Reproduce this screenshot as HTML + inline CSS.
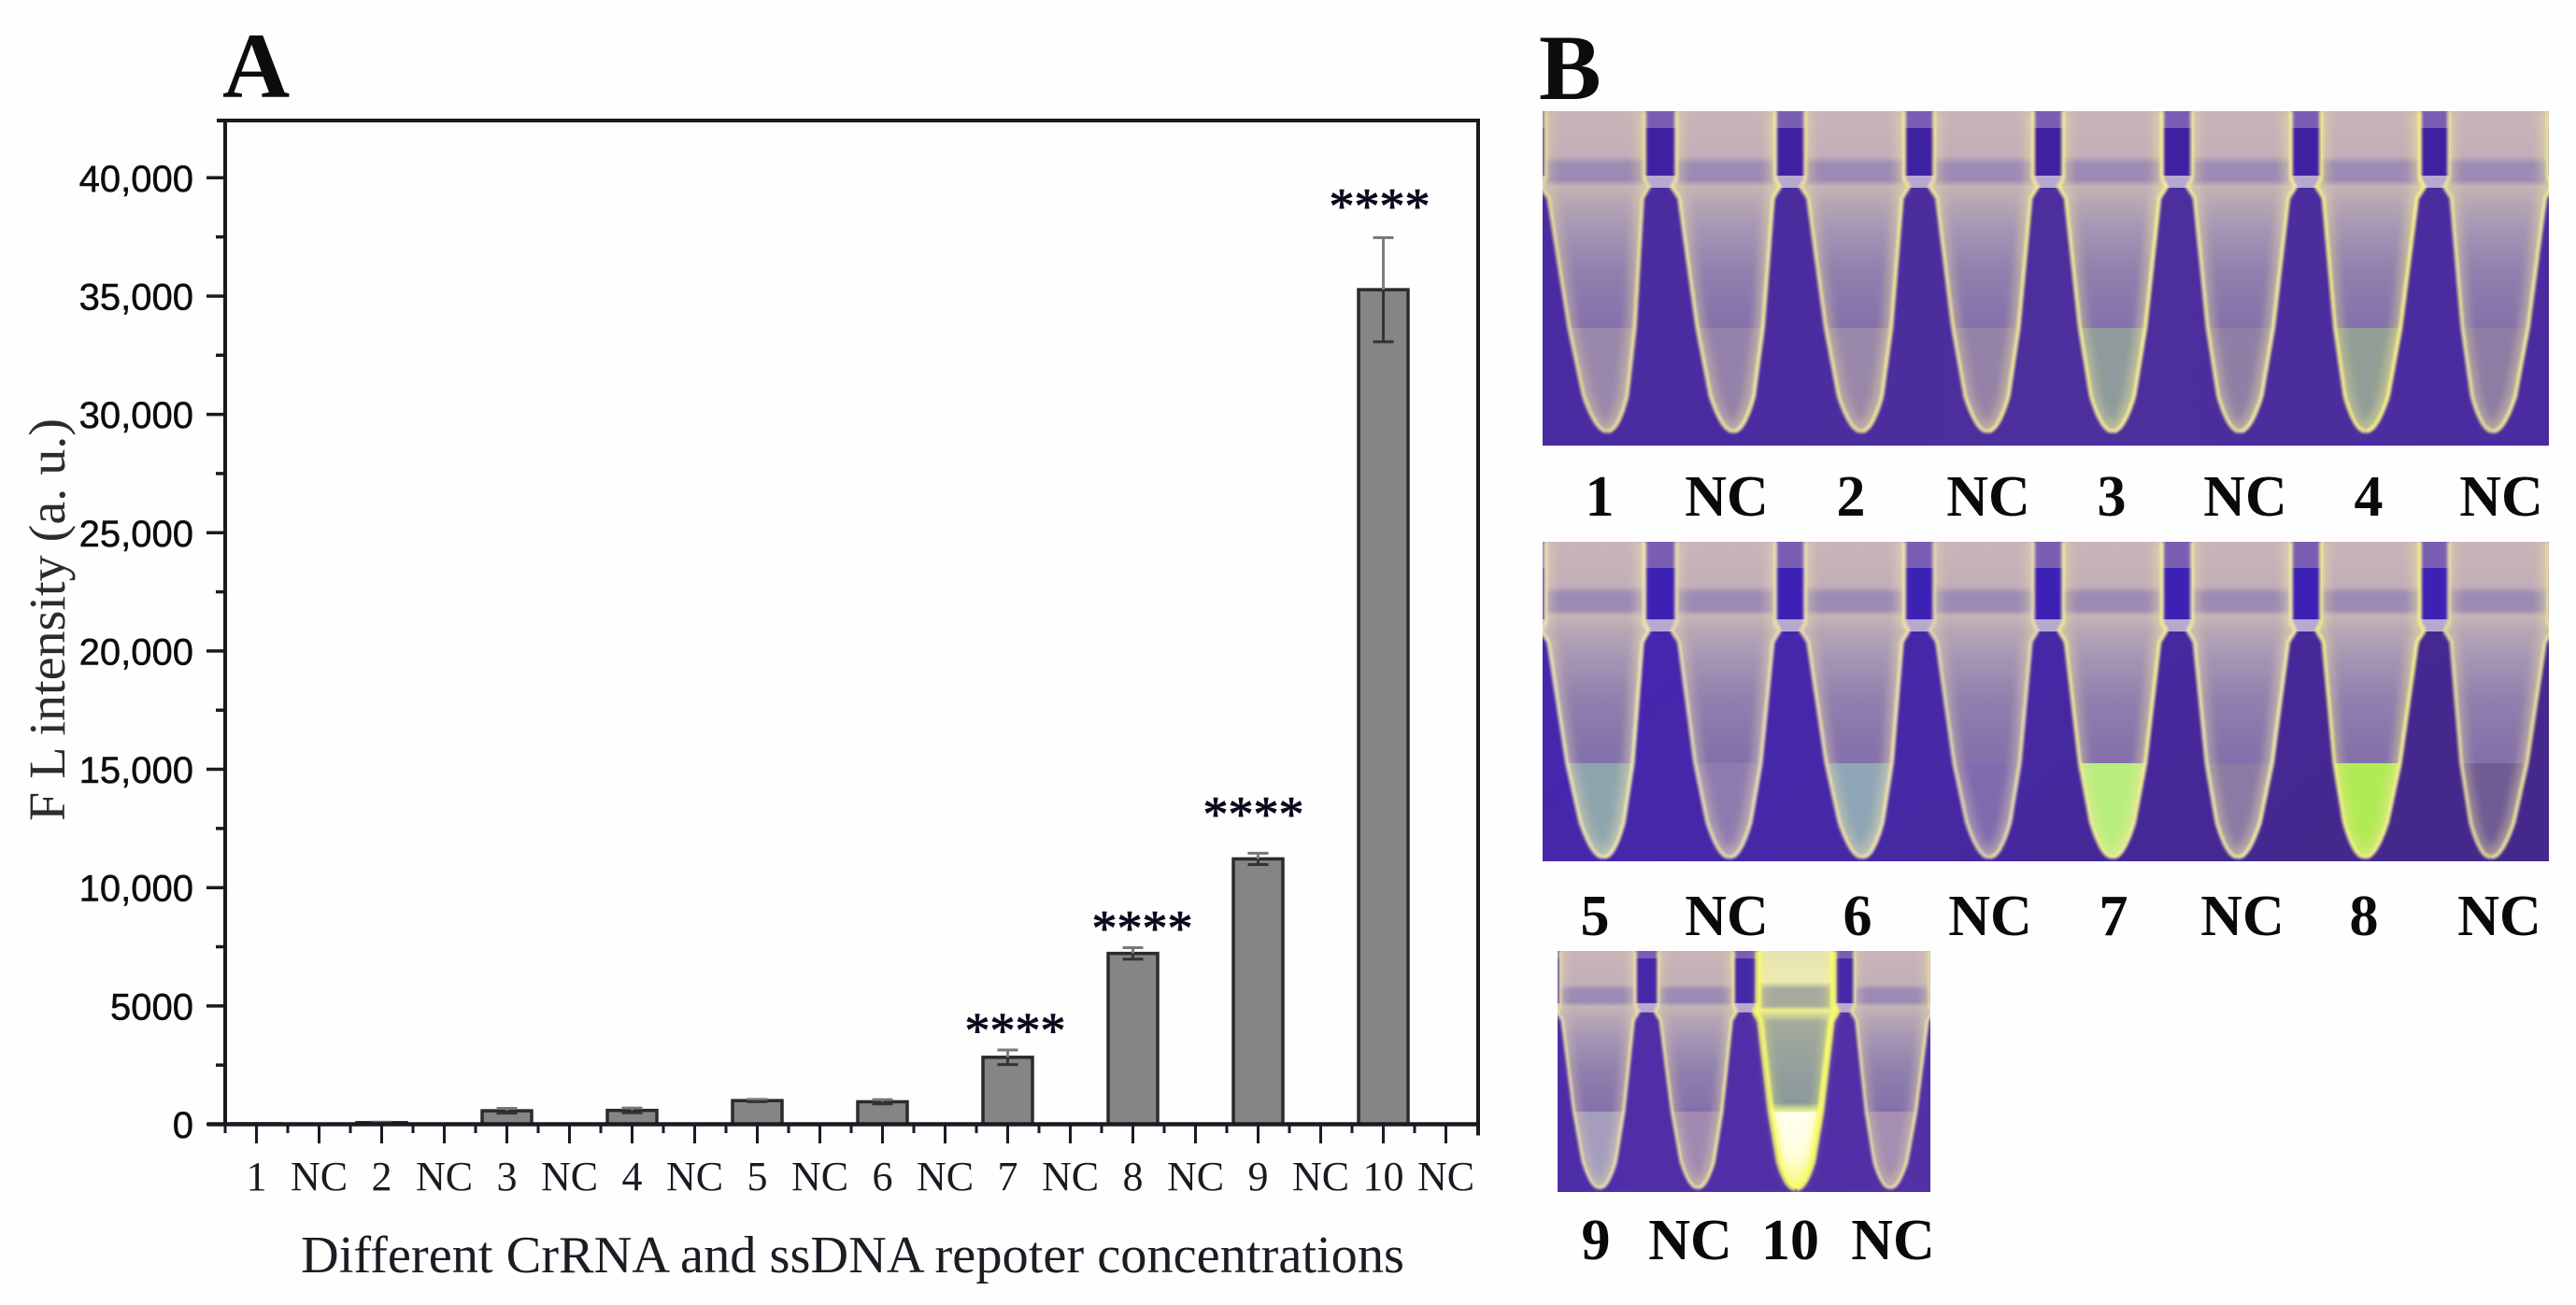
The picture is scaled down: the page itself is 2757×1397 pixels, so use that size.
<!DOCTYPE html>
<html lang="en">
<head>
<meta charset="utf-8">
<title>FL intensity chart and tube photographs</title>
<style>
html,body{margin:0;padding:0;background:#fefefe;}
svg{display:block;position:absolute;left:0;top:0;}
.serif{font-family:"Liberation Serif",serif;}
.sans{font-family:"Liberation Sans",sans-serif;}
</style>
</head>
<body>
<svg id="fig" xmlns="http://www.w3.org/2000/svg" width="2757" height="1397" viewBox="0 0 2757 1397">
  <defs>
    <filter id="soft" x="-20%" y="-5%" width="140%" height="110%"><feGaussianBlur stdDeviation="1.3"/></filter>
    <filter id="wide" x="-30%" y="-10%" width="160%" height="120%"><feGaussianBlur stdDeviation="5"/></filter>
    <filter id="softer" x="-20%" y="-20%" width="140%" height="140%"><feGaussianBlur stdDeviation="5"/></filter>
    <linearGradient id="bg1" x1="0" x2="1" y1="0" y2="0"><stop offset="0" stop-color="#4a2ba2"/><stop offset=".5" stop-color="#4c2e9c"/><stop offset="1" stop-color="#4a2ca0"/></linearGradient>
    <linearGradient id="bg2" x1="0" x2="1" y1="0" y2="0.35"><stop offset="0" stop-color="#4425b0"/><stop offset=".55" stop-color="#4728a6"/><stop offset="1" stop-color="#44288c"/></linearGradient>
    <linearGradient id="bg3" x1="0" x2="1" y1="0" y2="0"><stop offset="0" stop-color="#4e2da8"/><stop offset="1" stop-color="#5230a6"/></linearGradient>
    <linearGradient id="body" x1="0" x2="0" y1="0" y2="1">
      <stop offset="0" stop-color="#c9b5b8"/><stop offset=".14" stop-color="#c2aeb8"/><stop offset=".165" stop-color="#9c8bb4"/><stop offset=".215" stop-color="#9c8bb4"/><stop offset=".235" stop-color="#c4b4b6"/><stop offset=".29" stop-color="#b5a5b4"/><stop offset=".36" stop-color="#a797b4"/><stop offset=".5" stop-color="#9080ae"/><stop offset=".68" stop-color="#8470aa"/><stop offset="1" stop-color="#8a74ad"/>
    </linearGradient>
    <linearGradient id="body-bright" x1="0" x2="0" y1="0" y2="1">
      <stop offset="0" stop-color="#e6e2b0"/><stop offset=".13" stop-color="#ecebb4"/><stop offset=".16" stop-color="#a8aa9e"/><stop offset=".23" stop-color="#a8aa9e"/><stop offset=".25" stop-color="#f0f090"/><stop offset=".3" stop-color="#a2ab9c"/><stop offset=".55" stop-color="#909c9c"/><stop offset=".64" stop-color="#8a9a9c"/><stop offset=".67" stop-color="#dceb8c"/><stop offset="1" stop-color="#dceb8c"/>
    </linearGradient>
    <linearGradient id="glow" x1="0" x2="0" y1="0" y2="1"><stop offset="0" stop-color="#fffff4"/><stop offset=".55" stop-color="#fffee0"/><stop offset="1" stop-color="#f6f98a"/></linearGradient>
  </defs>

  <text class="serif" x="238" y="104" font-size="100" font-weight="bold" fill="#0c0c0c">A</text>
  <text class="serif" x="1647" y="106" font-size="100" font-weight="bold" fill="#0c0c0c">B</text>

  <g id="chart"></g>
  <text class="serif" transform="translate(69 879) rotate(-90)" x="0" y="0" font-size="55" fill="#2c2c2c" textLength="431" lengthAdjust="spacingAndGlyphs">F L intensity (a. u.)</text>
  <text class="serif" x="322" y="1362" font-size="56" fill="#1c1c24" textLength="1181" lengthAdjust="spacingAndGlyphs">Different CrRNA and ssDNA repoter concentrations</text>

  <g id="photos"></g>

  <g class="serif" font-size="62" font-weight="bold" fill="#0a0a0a" text-anchor="middle">
    <text x="1712" y="552">1</text>
    <text x="1848" y="552">NC</text>
    <text x="1981" y="552">2</text>
    <text x="2128" y="552">NC</text>
    <text x="2260" y="552">3</text>
    <text x="2403" y="552">NC</text>
    <text x="2535" y="552">4</text>
    <text x="2677" y="552">NC</text>
  </g>
  <g class="serif" font-size="62" font-weight="bold" fill="#0a0a0a" text-anchor="middle">
    <text x="1707" y="1001">5</text>
    <text x="1848" y="1001">NC</text>
    <text x="1988" y="1001">6</text>
    <text x="2130" y="1001">NC</text>
    <text x="2262" y="1001">7</text>
    <text x="2400" y="1001">NC</text>
    <text x="2530" y="1001">8</text>
    <text x="2675" y="1001">NC</text>
  </g>
  <g class="serif" font-size="62" font-weight="bold" fill="#0a0a0a" text-anchor="middle">
    <text x="1708" y="1348">9</text>
    <text x="1809" y="1348">NC</text>
    <text x="1916" y="1348">10</text>
    <text x="2026" y="1348">NC</text>
  </g>
</svg>

<script>
// ---------- chart data ----------
const categories = ['1','NC','2','NC','3','NC','4','NC','5','NC','6','NC','7','NC','8','NC','9','NC','10','NC'];
const intensity  = [20,0,70,0,570,0,585,0,1000,0,950,0,2830,0,7220,0,11215,0,35270,0];
const errors     = [0,0,20,0,100,0,100,0,50,0,90,0,310,0,240,0,240,0,2200,0];
const significance = ['','','','','','','','','','','','','****','','****','','****','','****',''];
const yTickValues = [0,5000,10000,15000,20000,25000,30000,35000,40000];
const yTickLabels = ['0','5000','10,000','15,000','20,000','25,000','30,000','35,000','40,000'];

const NS = 'http://www.w3.org/2000/svg';
function mk(tag, attrs, parent){
  const el = document.createElementNS(NS, tag);
  for (const k in attrs) el.setAttribute(k, attrs[k]);
  parent.appendChild(el);
  return el;
}

// ---------- axis functions ----------
const plot = {left:241, right:1582, top:129, zero:1203.5};
const yPerUnit = 0.02533;
const unitX = 67;
function xScale(i){ return 274.5 + i * unitX; }
function yScale(v){ return plot.zero - v * yPerUnit; }

const chart = document.getElementById('chart');
const AXIS = '#1a1a22';

// bars and error bars
const barW = 53;
categories.forEach(function(cat, i){
  const v = intensity[i];
  if (v <= 0) return;
  const bar = mk('rect', {x:xScale(i)-barW/2, y:yScale(v), width:barW, height:plot.zero-yScale(v), fill:'#858585', stroke:'#2b2b2b', 'stroke-width':3.5}, chart);
  
  
  const e = errors[i];
  if (e > 0) {
    const eb = mk('g', {}, chart);
    
    
    const x = xScale(i), yT = yScale(v + e), yB = yScale(v - e), yM = yScale(v);
    mk('line', {x1:x, x2:x, y1:yT, y2:yM, stroke:'#7d7d7d', 'stroke-width':3}, eb);
    mk('line', {x1:x, x2:x, y1:yM, y2:yB, stroke:'#333', 'stroke-width':3}, eb);
    mk('line', {x1:x-11, x2:x+11, y1:yT, y2:yT, stroke:'#777', 'stroke-width':3}, eb);
    mk('line', {x1:x-11, x2:x+11, y1:yB, y2:yB, stroke:'#333', 'stroke-width':3}, eb);
  }
});

// significance stars
const starNudge = {12:[8,-28],14:[10,-28],16:[-5,-49],18:[-4,-41]};
significance.forEach(function(s, i){
  if (!s) return;
  const n = starNudge[i];
  const t = mk('text', {x:xScale(i)+n[0], y:yScale(intensity[i]+errors[i])+n[1]+25, 'text-anchor':'middle', 'font-size':54, fill:'#0a0a1e', stroke:'#0a0a1e', 'stroke-width':0.9, 'class':'serif'}, chart);
  
  
  t.textContent = s;
});

// axes frame
const yAxis = mk('line', {x1:plot.left, x2:plot.left, y1:plot.top-1, y2:plot.zero+2, stroke:AXIS, 'stroke-width':4}, chart);


const rightAxis = mk('line', {x1:plot.right, x2:plot.right, y1:plot.top-1, y2:plot.zero+12, stroke:AXIS, 'stroke-width':4}, chart);


const topAxis = mk('line', {x1:232, x2:plot.right+2, y1:plot.top, y2:plot.top, stroke:AXIS, 'stroke-width':4}, chart);


const xAxis = mk('line', {x1:222, x2:plot.right+2, y1:plot.zero, y2:plot.zero, stroke:AXIS, 'stroke-width':4.5}, chart);



// y ticks
yTickValues.forEach(function(v, i){
  const y = yScale(v);
  const tick = mk('line', {x1:221, x2:plot.left, y1:y, y2:y, stroke:AXIS, 'stroke-width':3.5}, chart);
  
  
  const lab = mk('text', {x:207, y:y+14.5, 'text-anchor':'end', 'font-size':40, fill:'#0c0c0c', stroke:'#0c0c0c', 'stroke-width':0.5, 'class':'sans'}, chart);
  
  
  lab.textContent = yTickLabels[i];
  if (i < yTickValues.length - 1) {
    const my = yScale((v + yTickValues[i+1]) / 2);
    const minor = mk('line', {x1:231, x2:plot.left, y1:my, y2:my, stroke:AXIS, 'stroke-width':3.5}, chart);
    
    
  }
});

// x ticks and labels
categories.forEach(function(cat, i){
  const x = xScale(i);
  const tick = mk('line', {x1:x, x2:x, y1:plot.zero, y2:1224, stroke:AXIS, 'stroke-width':3}, chart);
  
  
  const mx = x - unitX / 2;
  const minor = mk('line', {x1:mx, x2:mx, y1:plot.zero, y2:1213, stroke:AXIS, 'stroke-width':3}, chart);
  
  
  const lab = mk('text', {x:x, y:1274, 'text-anchor':'middle', 'font-size':44, fill:'#1a1a22', 'class':'serif'}, chart);
  
  
  lab.textContent = cat;
});

// ---------- photographs (SVG approximation of PCR tubes) ----------
const panels = [
  {name:'tube-photo-row-1', x:1651, y:119, w:1077, h:358, bg:'url(#bg1)', hw:54, ring:81, level:232, tip:343, gapTop:18, gapCol:'#3f20a0',
   caps:[56,196,334,472,610,748,886,1023], tips:[69,204,341,476,610,746,881,1017],
   liquid:['#9a88ac','#9582aa','#9a88aa','#9582a8','#8f9b9c','#8f7fa6','#929d97','#8d7ca4'],
   edge:['#e8dc9c','#eee5a0','#eee29c','#efe49c','#f4ec96','#efe79c','#f7ee8c','#ece49c'],
   spark:['#ffffff','','#f5eeb0','','#fff8a0','','#fff870','']},
  {name:'tube-photo-row-2', x:1651, y:580, w:1077, h:342, bg:'url(#bg2)', hw:54, ring:95, level:237, tip:338, gapTop:28, gapCol:'#3d20b4',
   caps:[56,196,334,472,610,748,886,1023], tips:[65,200,342,478,610,744,880,1015],
   liquid:['#8fa5ae','#8e7cb0','#8fa6b6','#7f6cae','#b8ee7e','#8b7aa4','#b0ea55','#6f5c94'],
   edge:['#eee4b0','#e8dcb0','#eee0ac','#e4d8ae','#f0e99a','#eee6a8','#f2ec90','#e8dca0'],
   spark:['#fff890','','#f5eeb0','','#eaffa0','','#eaff90','']},
  {name:'tube-photo-row-3', x:1667, y:1018, w:399, h:258, bg:'url(#bg3)', hw:41, ring:65, level:172, tip:254, gapTop:8, gapCol:'#4527a8',
   caps:[43,148,255,358], tips:[45,150,255,356],
   liquid:['#a59dbe','#a18ab2','url(#glow)','#a48eb2'],
   edge:['#ecdfa8','#eee4a0','#f8fb6e','#ecdfa4'],
   spark:['#fff8a0','','#f8fb6e','']}
];

// half width of a tube at depth v
function halfWidth(p, v){
  const hw = p.hw, r = p.ring, L = p.level, T = p.tip;
  const s = hw / 54;
  if (v < r - 8*s) return hw * 0.98;
  if (v < r)        return hw * (0.98 + 0.09 * (v - (r - 8*s)) / (8*s));
  if (v < r + 12*s) return hw * (1.07 - 0.14 * (v - r) / (12*s));
  if (v < L)        return hw * (0.93 - 0.28 * (v - r - 12*s) / (L - r - 12*s));
  const nearTip = T - 38*s;
  if (v < nearTip)  return hw * (0.65 - 0.22 * (v - L) / (nearTip - L));
  const f = (T - v) / (38*s);
  return hw * 0.43 * Math.sqrt(Math.max(f, 0));
}
function centerAt(p, c, tx, v){
  if (v < p.ring) return c;
  return c + (tx - c) * (v - p.ring) / (p.tip - p.ring);
}
function sidePoints(p, c, tx, v0, v1, sign){
  const pts = [];
  for (let v = v0; v <= v1; v += 3) pts.push((centerAt(p,c,tx,v) + sign*halfWidth(p,v)).toFixed(1) + ',' + v);
  pts.push(centerAt(p,c,tx,v1).toFixed(1) + ',' + v1);
  return pts;
}
function outline(p, c, tx, v0){
  const right = sidePoints(p, c, tx, v0, p.tip, 1);
  const left = sidePoints(p, c, tx, v0, p.tip, -1).reverse();
  return right.concat(left).join(' ');
}

const photos = document.getElementById('photos');
panels.forEach(function(p, pi){
  const g = mk('g', {transform:'translate(' + p.x + ' ' + p.y + ')'}, photos);
  
  
  const clipId = 'clip' + pi;
  const cp = mk('clipPath', {id:clipId}, g);
  mk('rect', {x:0, y:0, width:p.w, height:p.h}, cp);
  const inner = mk('g', {'clip-path':'url(#' + clipId + ')'}, g);
  mk('rect', {x:0, y:0, width:p.w, height:p.h, fill:p.bg}, inner);
  const s = p.hw / 54;
  // dark upper strip and connector band between tube caps
  mk('rect', {x:0, y:p.gapTop, width:p.w, height:(p.ring-p.gapTop-12*s), fill:p.gapCol}, inner);
  mk('rect', {x:0, y:0, width:p.w, height:p.gapTop, fill:'#7a5eb4'}, inner);
  mk('rect', {x:0, y:p.ring-12*s, width:p.w, height:13*s, fill:'#b6a8cf'}, inner);
  p.caps.forEach(function(c, i){
    const tx = p.tips[i];
    const bright = pi === 2 && i === 2;
    const tube = mk('g', {}, inner);
    
    
    const tid = 'tube-clip-' + pi + '-' + i;
    const tc = mk('clipPath', {id:tid}, tube);
    mk('polygon', {points:outline(p,c,tx,0)}, tc);
    if (bright) mk('polygon', {points:outline(p,c,tx,0), fill:'#f6f98a', opacity:.45, filter:'url(#softer)'}, tube);
    mk('polygon', {points:outline(p,c,tx,0), fill:bright ? 'url(#body-bright)' : 'url(#body)'}, tube);
    // liquid
    mk('polygon', {points:outline(p,c,tx,p.level), fill:p.liquid[i]}, tube);
    const le = sidePoints(p,c,tx,0,p.tip,-1).join(' ');
    const re = sidePoints(p,c,tx,0,p.tip,1).join(' ');
    // translucent wall glow inside the tube
    const glow = mk('g', {'clip-path':'url(#' + tid + ')'}, tube);
    mk('polyline', {points:le, fill:'none', stroke:p.edge[i], 'stroke-width':16*s, opacity:.38, filter:'url(#wide)'}, glow);
    mk('polyline', {points:re, fill:'none', stroke:p.edge[i], 'stroke-width':18*s, opacity:.45, filter:'url(#wide)'}, glow);
    // cream edges
    const w = bright ? 8 : 3.5;
    mk('polyline', {points:le, fill:'none', stroke:p.edge[i], 'stroke-width':w*s+1, opacity:.85, filter:'url(#soft)'}, tube);
    mk('polyline', {points:re, fill:'none', stroke:p.edge[i], 'stroke-width':w*s+1, opacity:.95, filter:'url(#soft)'}, tube);
    // ring highlight
    const rw = halfWidth(p, p.ring);
    mk('line', {x1:c-rw, x2:c+rw, y1:p.ring+12*s, y2:p.ring+12*s, stroke:p.edge[i], 'stroke-width':3*s, opacity:.35, filter:'url(#soft)'}, tube);
    // meniscus
    if (p.spark[i]) {
      const cL = centerAt(p,c,tx,p.level), hL = halfWidth(p,p.level);
      mk('line', {x1:cL-hL, x2:cL+hL, y1:p.level, y2:p.level, stroke:p.spark[i], 'stroke-width':3.5*s, opacity:.85, filter:'url(#soft)'}, tube);
    }
  });
});
</script>
</body>
</html>
